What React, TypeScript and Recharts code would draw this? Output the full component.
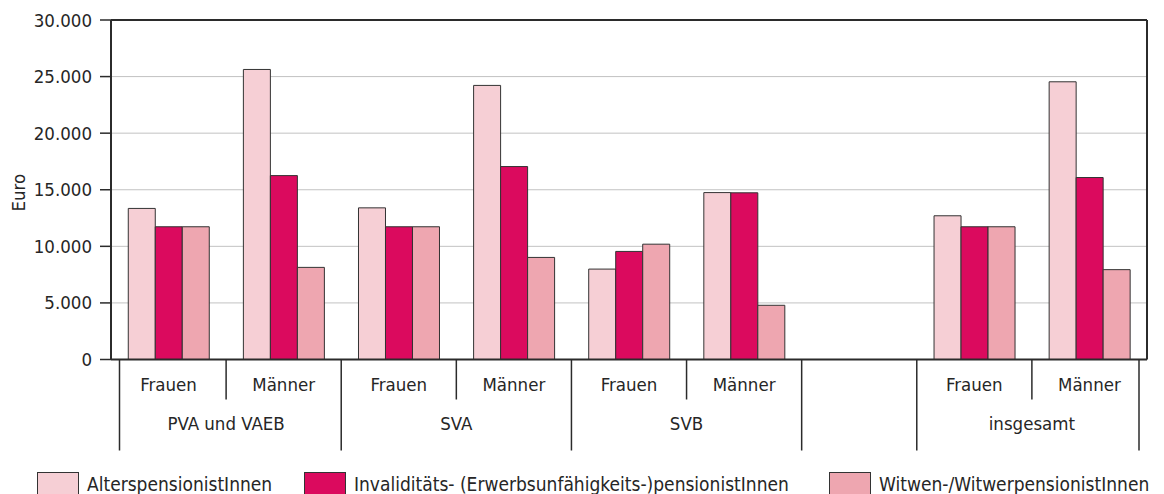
import { BarChart, Bar, XAxis, YAxis, CartesianGrid, Legend, ReferenceLine } from 'recharts';

const categories = ['Frauen', 'Männer', 'Frauen', 'Männer', 'Frauen', 'Männer', '', 'Frauen', 'Männer'];
const groups = ['PVA und VAEB', 'PVA und VAEB', 'SVA', 'SVA', 'SVB', 'SVB', '', 'insgesamt', 'insgesamt'];
const alters = [13350, 25630, 13400, 24220, 7990, 14750, null, 12700, 24540];
const invaliditaet = [11730, 16250, 11730, 17050, 9550, 14730, null, 11730, 16080];
const witwen = [11730, 8140, 11730, 9020, 10190, 4790, null, 11730, 7940];
const yTicks = [0, 5000, 10000, 15000, 20000, 25000, 30000];

const seriesNames = [
  'AlterspensionistInnen',
  'Invaliditäts- (Erwerbsunfähigkeits-)pensionistInnen',
  'Witwen-/WitwerpensionistInnen',
];
const seriesColors = ['#f6cfd5', '#db0a5e', '#eea6b0'];

const FONT = "'DejaVu Sans Condensed', 'DejaVu Sans', sans-serif";
const INK = '#262626';
const AXIS = '#2b2b2b';

const data = categories.map((c, i) => ({
  key: `${i}`,
  alters: alters[i],
  invaliditaet: invaliditaet[i],
  witwen: witwen[i],
}));

const fmt = (v: number) => String(v).replace(/\B(?=(\d{3})+(?!\d))/g, '.');

const textStyle = { fontFamily: FONT, fontStretch: 'condensed' as const, fontSize: 18.5, fill: INK };

function CategoryTick(props: any) {
  const { x, y, payload } = props;
  const i = props.index ?? payload.index;
  const half = payload.offset || 57.5;
  const label = categories[i];
  const isMale = label === 'Männer';
  const left = x - half + (i === 0 ? 8.5 : 0);
  const last = i === categories.length - 1;
  return (
    <g>
      <line x1={left} x2={left} y1={y} y2={y + (isMale ? 40 : 91)} stroke={AXIS} strokeWidth={1.5} />
      {last && (
        <line x1={x + half - 8} x2={x + half - 8} y1={y} y2={y + 91} stroke={AXIS} strokeWidth={1.5} />
      )}
      {label && (
        <text x={x} y={y + 31} textAnchor="middle" style={textStyle}>
          {label}
        </text>
      )}
      {label === 'Frauen' && (
        <text x={x + half} y={y + 70} textAnchor="middle" style={textStyle}>
          {groups[i]}
        </text>
      )}
    </g>
  );
}

function EuroLabel(props: any) {
  const vb = props.viewBox || { x: 0, y: 20, width: 111, height: 340 };
  const cx = vb.x + 25;
  const cy = vb.y + vb.height / 2 + 3;
  return (
    <text x={cx} y={cy} transform={`rotate(-90, ${cx}, ${cy})`} textAnchor="middle" style={textStyle}>
      Euro
    </text>
  );
}

const legendLefts = [37, 304, 829];

function LegendContent() {
  return (
    <div style={{ position: 'relative', height: 26, width: 1164 }}>
      {seriesNames.map((name, i) => (
        <div key={name}>
          <div
            style={{
              position: 'absolute',
              left: legendLefts[i],
              top: 4,
              width: 40,
              height: 21,
              background: seriesColors[i],
              border: '1px solid #333',
            }}
          />
          <div
            style={{
              position: 'absolute',
              left: legendLefts[i] + 50,
              top: 5,
              lineHeight: '22px',
              fontFamily: FONT,
              fontStretch: 'condensed',
              fontSize: 19,
              color: INK,
              whiteSpace: 'nowrap',
            }}
          >
            {name}
          </div>
        </div>
      ))}
    </div>
  );
}

export default function App() {
  return (
    <div style={{ position: 'absolute', left: 0, top: 0, width: 1164, height: 494, background: '#fff' }}>
      <BarChart
        width={1164}
        height={494}
        data={data}
        margin={{ top: 20, right: 16, left: 0, bottom: 0 }}
        barCategoryGap="15%"
        barGap={0}
      >
        <CartesianGrid vertical={false} stroke="#c2c2c2" />
        <XAxis
          dataKey="key"
          interval={0}
          height={108.5}
          tickSize={0}
          tickMargin={0}
          tickLine={false}
          axisLine={{ stroke: AXIS, strokeWidth: 2 }}
          tick={<CategoryTick />}
        />
        <YAxis
          domain={[0, 30000]}
          ticks={yTicks}
          interval={0}
          width={111}
          tickSize={11}
          tickMargin={8}
          tickFormatter={fmt}
          tick={textStyle}
          tickLine={{ stroke: AXIS, strokeWidth: 1.5 }}
          axisLine={{ stroke: AXIS, strokeWidth: 2 }}
          label={<EuroLabel />}
        />
        <YAxis
          yAxisId="right"
          orientation="right"
          domain={[0, 30000]}
          width={1}
          tick={false}
          tickLine={false}
          axisLine={{ stroke: AXIS, strokeWidth: 2 }}
        />
        <ReferenceLine y={30000} stroke={AXIS} strokeWidth={2} />
        <Legend verticalAlign="bottom" content={<LegendContent />} />
        <Bar dataKey="alters" name={seriesNames[0]} fill={seriesColors[0]} stroke="#333" strokeWidth={1} isAnimationActive={false} />
        <Bar dataKey="invaliditaet" name={seriesNames[1]} fill={seriesColors[1]} stroke="#333" strokeWidth={1} isAnimationActive={false} />
        <Bar dataKey="witwen" name={seriesNames[2]} fill={seriesColors[2]} stroke="#333" strokeWidth={1} isAnimationActive={false} />
      </BarChart>
    </div>
  );
}
